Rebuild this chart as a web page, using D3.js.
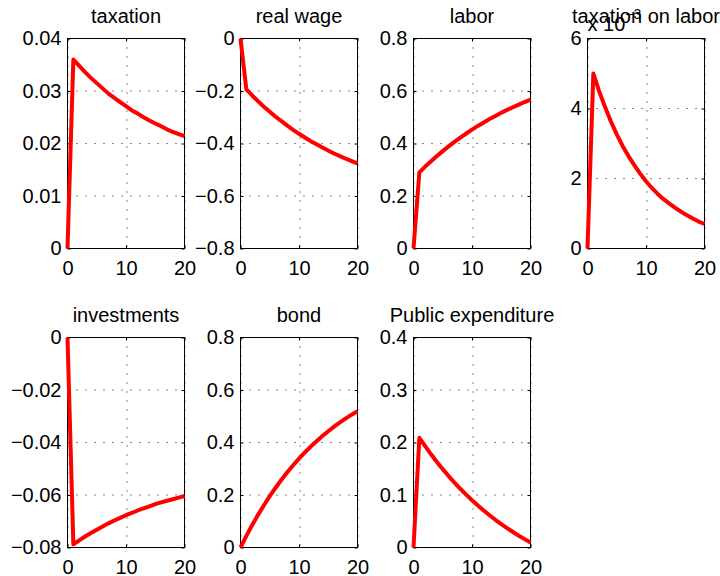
<!DOCTYPE html>
<html>
<head>
<meta charset="utf-8">
<script src="https://cdn.jsdelivr.net/npm/d3@7"></script>
<style>
  body { margin: 0; background: #fff; }
  svg { font-family: "Liberation Sans", Arial, sans-serif; }
</style>
</head>
<body>
<div id="chart"></div>
<script>
// impulse responses, periods 0..20
const periods = [0, 1, 2, 3, 4, 5, 6, 7, 8, 9, 10, 11, 12, 13, 14, 15, 16, 17, 18, 19, 20];

const taxation = [0, 0.0360, 0.0348, 0.0336, 0.0325, 0.0315, 0.0305, 0.0295, 0.0287, 0.0279, 0.0271,
  0.0263, 0.0257, 0.0250, 0.0244, 0.0238, 0.0233, 0.0227, 0.0222, 0.0218, 0.0214];
const realWage = [0, -0.194, -0.217, -0.239, -0.260, -0.279, -0.298, -0.315, -0.332, -0.348, -0.363,
  -0.377, -0.391, -0.403, -0.415, -0.427, -0.438, -0.448, -0.458, -0.467, -0.476];
const labor = [0, 0.290, 0.312, 0.332, 0.352, 0.371, 0.389, 0.406, 0.422, 0.438, 0.453,
  0.467, 0.480, 0.493, 0.505, 0.517, 0.528, 0.538, 0.548, 0.558, 0.567];
const taxLabor = [0, 0.00500, 0.00449, 0.00404, 0.00363, 0.00326, 0.00293, 0.00264, 0.00238, 0.00214, 0.00192,
  0.00173, 0.00156, 0.00141, 0.00128, 0.00116, 0.00105, 0.00095, 0.00086, 0.00077, 0.00070];
const investments = [0, -0.0788, -0.0773, -0.0758, -0.0745, -0.0732, -0.0720, -0.0708, -0.0697, -0.0687, -0.0677,
  -0.0668, -0.0659, -0.0651, -0.0643, -0.0635, -0.0628, -0.0622, -0.0616, -0.0610, -0.0604];
const bond = [0, 0.0441, 0.0855, 0.1244, 0.1610, 0.1954, 0.2277, 0.2580, 0.2865, 0.3133, 0.3384,
  0.3620, 0.3842, 0.4050, 0.4246, 0.4430, 0.4603, 0.4765, 0.4917, 0.5060, 0.5195];
const publicExp = [0, 0.2090, 0.1929, 0.1775, 0.1630, 0.1492, 0.1361, 0.1237, 0.1119, 0.1007, 0.0901,
  0.0800, 0.0705, 0.0614, 0.0528, 0.0446, 0.0369, 0.0295, 0.0225, 0.0159, 0.0096];

const titles = ['taxation', 'real wage', 'labor', 'taxation on labor', 'investments', 'bond', 'Public expenditure'];

const xTicks = [0, 10, 20];
const xTickLabels = ['0', '10', '20'];

const yTickSets = [
  [0, 0.01, 0.02, 0.03, 0.04],
  [-0.8, -0.6, -0.4, -0.2, 0],
  [0, 0.2, 0.4, 0.6, 0.8],
  [0, 0.002, 0.004, 0.006],
  [-0.08, -0.06, -0.04, -0.02, 0],
  [0, 0.2, 0.4, 0.6, 0.8],
  [0, 0.1, 0.2, 0.3, 0.4]
];
const yTickLabelSets = [
  ['0', '0.01', '0.02', '0.03', '0.04'],
  ['\u22120.8', '\u22120.6', '\u22120.4', '\u22120.2', '0'],
  ['0', '0.2', '0.4', '0.6', '0.8'],
  ['0', '2', '4', '6'],
  ['\u22120.08', '\u22120.06', '\u22120.04', '\u22120.02', '0'],
  ['0', '0.2', '0.4', '0.6', '0.8'],
  ['0', '0.1', '0.2', '0.3', '0.4']
];
const seriesList = [taxation, realWage, labor, taxLabor, investments, bond, publicExp];

const W = 720, H = 576;
const colLeft = [67.5, 240.5, 413.5, 587.5];
const rowTop = [38.5, 337.5];
const pw = 117, ph = 210;
const fontSize = 20;

const svg = d3.select('#chart').append('svg')
  .attr('width', W)
  .attr('height', H);

seriesList.forEach((values, i) => {
  const col = i % 4, row = Math.floor(i / 4);
  const yTicks = yTickSets[i], yLabels = yTickLabelSets[i];

  const g = svg.append('g')
    .attr('transform', `translate(${colLeft[col]},${rowTop[row]})`);

  const x = d3.scaleLinear().domain([0, 20]).range([0, pw]);
  const y = d3.scaleLinear().domain(d3.extent(yTicks)).range([ph, 0]);

  // dotted grid
  g.selectAll('.gx').data(xTicks).enter().append('line')
    .attr('x1', d => Math.round(x(d)) + 0.5).attr('x2', d => Math.round(x(d)) + 0.5)
    .attr('y1', 0).attr('y2', ph)
    .attr('stroke', '#111').attr('stroke-dasharray', '1,8');
  g.selectAll('.gy').data(yTicks).enter().append('line')
    .attr('y1', d => y(d)).attr('y2', d => y(d))
    .attr('x1', 0).attr('x2', pw)
    .attr('stroke', '#111').attr('stroke-dasharray', '1,8');

  // axes with inward ticks
  const yAxis = g.append('g')
    .call(d3.axisLeft(y).tickValues(yTicks).tickFormat((d, k) => yLabels[k]).tickSizeInner(-3).tickSizeOuter(0).tickPadding(6));
  g.append('g').attr('transform', `translate(${pw},0)`)
    .call(d3.axisRight(y).tickValues(yTicks).tickFormat('').tickSizeInner(-3).tickSizeOuter(0));
  const xAxis = g.append('g').attr('transform', `translate(0,${ph})`)
    .call(d3.axisBottom(x).tickValues(xTicks).tickFormat((d, k) => xTickLabels[k]).tickSizeInner(-3).tickSizeOuter(0).tickPadding(12));
  g.append('g')
    .call(d3.axisTop(x).tickValues(xTicks).tickFormat('').tickSizeInner(-3).tickSizeOuter(0));

  g.selectAll('.domain').remove();
  g.selectAll('.tick line').attr('stroke', '#000');
  [yAxis, xAxis].forEach(a => a.selectAll('text')
    .attr('fill', '#000')
    .style('font-size', fontSize + 'px')
    .style('font-family', '"Liberation Sans", Arial, sans-serif'));

  g.append('rect')
    .attr('width', pw).attr('height', ph)
    .attr('fill', 'none').attr('stroke', '#000').attr('stroke-width', 1);

  const line = d3.line()
    .x((d, k) => x(periods[k]))
    .y(d => y(d));

  g.append('path')
    .datum(values)
    .attr('fill', 'none')
    .attr('stroke', '#ff0000')
    .attr('stroke-width', 4)
    .attr('stroke-linejoin', 'round')
    .attr('d', line);

  g.append('text')
    .attr('x', pw / 2).attr('y', -16)
    .attr('text-anchor', 'middle')
    .style('font-size', fontSize + 'px')
    .attr('fill', '#000')
    .text(titles[i]);

  // exponent multiplier for the scaled panel
  if (i === 3) {
    const m = g.append('text').attr('x', 0).attr('y', -8)
      .style('font-size', fontSize + 'px').attr('fill', '#000');
    m.append('tspan').text('x 10');
    m.append('tspan').attr('dy', -12).style('font-size', '14px').text('\u22123');
  }
});
</script>
</body>
</html>
